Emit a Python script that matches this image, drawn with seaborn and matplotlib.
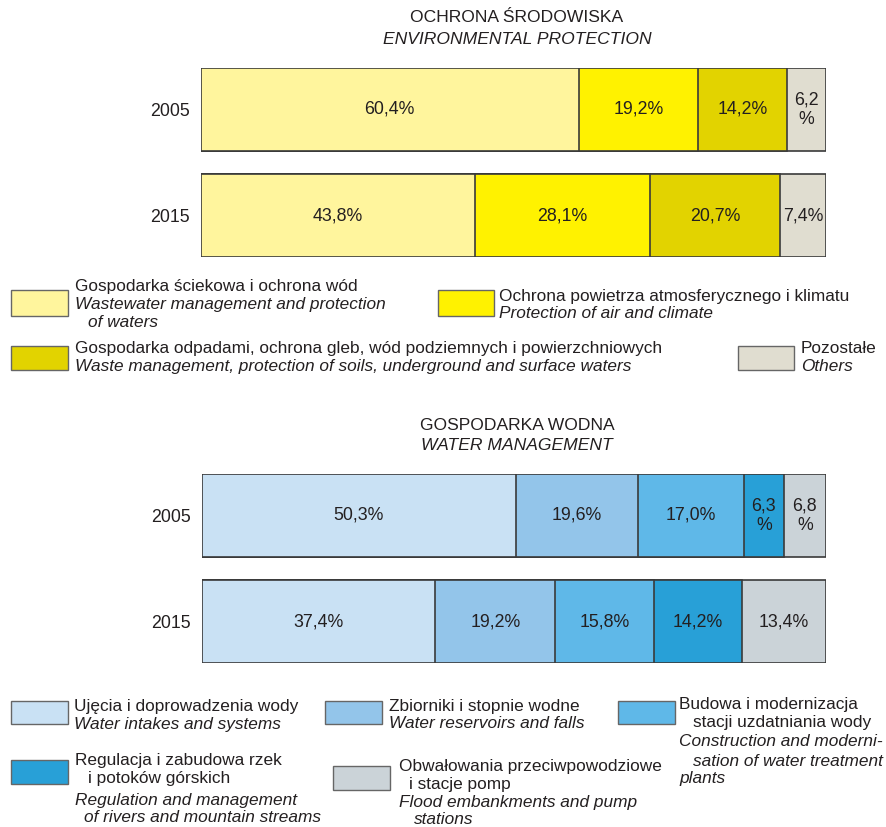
import numpy as np
import matplotlib.pyplot as plt
import seaborn as sns
from matplotlib.patches import Rectangle

sns.set_theme(style="white")
plt.rcParams['font.family'] = ['Liberation Sans', 'DejaVu Sans']

# Data
years = ["2005", "2015"]

env_values = [[60.4, 19.2, 14.2, 6.2],
              [43.8, 28.1, 20.7, 7.4]]
env_colors = ["#FFF59D", "#FFF200", "#E2D300", "#E0DDD0"]

water_values = [[50.3, 19.6, 17.0, 6.3, 6.8],
                [37.4, 19.2, 15.8, 14.2, 13.4]]
water_colors = ["#C9E1F4", "#93C5EA", "#5FB8E8", "#28A0D7", "#CBD3D8"]

TXT = "#231F20"
W, H = 887, 827

fig = plt.figure(figsize=(W / 100, H / 100), dpi=100)


def fx(x):
    return x / W


def fy(y):
    return 1 - y / H


def stacked(values, colors, top, bottom, left=201, right=826):
    ax = fig.add_axes([fx(left), fy(bottom), (right - left) / W, (bottom - top) / H])
    vals = np.array(values)
    cum = np.cumsum(vals, axis=1)
    # draw the longest cumulative bar first, shorter ones on top
    for i in range(vals.shape[1] - 1, -1, -1):
        sns.barplot(x=cum[:, i], y=years, color=colors[i], orient="h", width=0.783,
                    saturation=1, edgecolor="#3a3a3a", linewidth=1.2, ax=ax)
    for r in range(vals.shape[0]):
        for i in range(vals.shape[1]):
            v = vals[r, i]
            s = f"{v:.1f}".replace(".", ",")
            lab = s + "\n%" if v < 7 else s + "%"
            ax.text(cum[r, i] - v / 2, r, lab, ha="center", va="center",
                    fontsize=12.8, color=TXT, linespacing=1.2)
    ax.set_xlim(0, 100)
    ax.set_ylim(1.3915, -0.3915)
    ax.set_xlabel("")
    ax.set_ylabel("")
    ax.set_xticks([])
    for sp in ax.spines.values():
        sp.set_visible(False)
    ax.tick_params(axis="y", length=0, pad=8, labelsize=12.8, labelcolor=TXT)
    return ax


def swatch(x0, y0, x1, y1, color):
    fig.patches.append(Rectangle((fx(x0), fy(y1)), (x1 - x0) / W, (y1 - y0) / H,
                                 transform=fig.transFigure, facecolor=color,
                                 edgecolor="#666666", linewidth=1.0))


def label(x, y, s, italic=False, size=12.4, ha="left"):
    fig.text(fx(x), fy(y), s, ha=ha, va="center", fontsize=size, color=TXT,
             style="italic" if italic else "normal")


# Top chart
label(517, 18, "OCHRONA ŚRODOWISKA", ha="center", size=12.6)
label(517, 40, "ENVIRONMENTAL PROTECTION", italic=True, ha="center", size=12.6)
stacked(env_values, env_colors, 68, 257)

swatch(11, 290, 68, 316, env_colors[0])
label(75, 286, "Gospodarka ściekowa i ochrona wód")
label(75, 304, "Wastewater management and protection", italic=True)
label(88, 323, "of waters", italic=True)

swatch(438, 290, 494, 316, env_colors[1])
label(499, 296, "Ochrona powietrza atmosferycznego i klimatu")
label(499, 314, "Protection of air and climate", italic=True)

swatch(11, 346, 68, 370, env_colors[2])
label(75, 349, "Gospodarka odpadami, ochrona gleb, wód podziemnych i powierzchniowych")
label(75, 367, "Waste management, protection of soils, underground and surface waters", italic=True)

swatch(738, 346, 794, 370, env_colors[3])
label(801, 349, "Pozostałe")
label(801, 367, "Others", italic=True)

# Bottom chart
label(517, 425, "GOSPODARKA WODNA", ha="center", size=12.6)
label(517, 446, "WATER MANAGEMENT", italic=True, ha="center", size=12.6)
stacked(water_values, water_colors, 474, 663, left=202)

swatch(11, 701, 68, 724, water_colors[0])
label(74, 706, "Ujęcia i doprowadzenia wody")
label(74, 724, "Water intakes and systems", italic=True)

swatch(325, 701, 382, 724, water_colors[1])
label(389, 706, "Zbiorniki i stopnie wodne")
label(389, 724, "Water reservoirs and falls", italic=True)

swatch(618, 701, 675, 724, water_colors[2])
label(679, 704, "Budowa i modernizacja")
label(693, 722, "stacji uzdatniania wody")
label(679, 742, "Construction and moderni-", italic=True)
label(693, 761, "sation of water treatment", italic=True)
label(679, 779, "plants", italic=True)

swatch(11, 760, 68, 784, water_colors[3])
label(75, 760, "Regulacja i zabudowa rzek")
label(88, 779, "i potoków górskich")
label(75, 800, "Regulation and management", italic=True)
label(84, 818, "of rivers and mountain streams", italic=True)

swatch(333, 766, 390, 790, water_colors[4])
label(399, 766, "Obwałowania przeciwpowodziowe")
label(409, 784, "i stacje pomp")
label(399, 802, "Flood embankments and pump", italic=True)
label(414, 819, "stations", italic=True)

fig.savefig("out.png", dpi=100)
